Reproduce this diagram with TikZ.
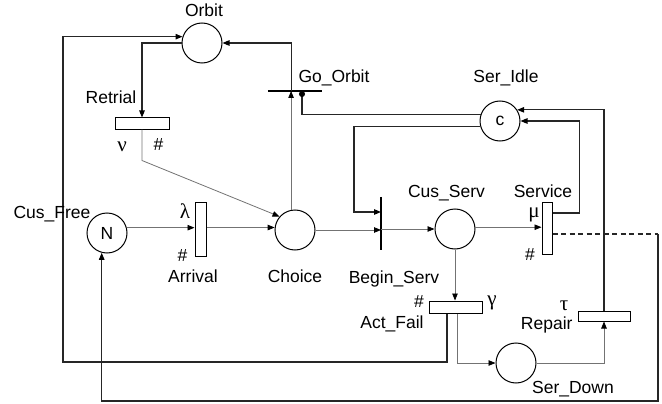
\documentclass[tikz,border=0pt]{standalone}
\usepackage{fontspec}
\setmainfont{Liberation Sans}
\newfontfamily\grkf{Liberation Serif}
\newcommand{\grk}{\grkf\fontsize{21}{24}\selectfont}
\usetikzlibrary{arrows.meta,calc}
\begin{document}
\begin{tikzpicture}[x=1pt,y=-1pt,
  txt/.style={font=\fontsize{17.5}{21}\selectfont},
  place/.style={circle,draw,line width=1pt,minimum size=40pt,inner sep=0pt,txt},
  trans/.style={rectangle,draw,line width=1pt,inner sep=0pt,fill=white},
  tbar/.style={inner sep=0pt,minimum size=0pt},
  barline/.style={line width=1.2pt},
  lbl/.style={anchor=base,inner sep=0pt,txt},
  arc/.style={-{Triangle[length=7pt,width=5.5pt,color=black]}},
  inh/.style={-{Circle[length=6pt,color=black]}},
  thk/.style={line width=1.1pt,black!85},
  thn/.style={line width=0.8pt,black!55},
  dsh/.style={dash pattern=on 5pt off 3.5pt}
]
\useasboundingbox (0,0) rectangle (662,404);

% places
\node[place] (orbit) at (202,43) {};
\node[place] (si) at (500,121) {c};
\node[place] (cf) at (107,233) {N};
\node[place] (ch) at (295,230) {};
\node[place] (cs) at (455,229) {};
\node[place] (sd) at (516,363) {};

% transitions
\node[trans,minimum width=54pt,minimum height=11pt] (ret) at (142,123.5) {};
\node[trans,minimum width=11pt,minimum height=54pt] (arr) at (200.5,229) {};
\node[trans,minimum width=10pt,minimum height=52pt] (sv) at (547,228) {};
\node[trans,minimum width=53pt,minimum height=12pt] (af) at (455.5,307) {};
\node[trans,minimum width=52pt,minimum height=10pt] (rp) at (604,316) {};
\node[tbar,minimum height=53pt] (bs) at (381,223.5) {};
\node[tbar,minimum width=54pt] (go) at (295,91) {};
\draw[barline] (bs.north) -- (bs.south);
\draw[barline] (go.west) -- (go.east);

% helper coordinates
\coordinate (c1) at (63,362);
\coordinate (bsin) at (354,212);
\coordinate (rc) at (658,234);
\coordinate (bot) at (102,401);

% connectors
\draw[thn,arc] (cf.15) -- (arr.west |- cf.15);
\draw[thn,arc] (arr.east |- ch.173) -- (ch.173);
\draw[thn,arc] (ch.east) -- (bs.center |- ch.east);
\draw[thn,arc] (bs.center |- cs.west) -- (cs.west);
\draw[thn,arc] (cs.5) -- (sv.west |- cs.5);
\draw[thn,arc] (cs.south) -- (cs.south |- af.north);
\draw[thn,arc] ($(af.south)+(1.5,0)$) |- (sd.west);
\draw[thk,arc] ($(af.south)+(-8.5,0)$) |- (c1) |- (orbit.162);
\draw[thk,arc] (orbit.west) -| (ret.north);
\draw[thn,arc] (ret.south) -- ++(0,31) -- (ch.139);
\draw[thn,arc] (ch.101) -- (ch.101 |- go.center);
\draw[thk,arc] (ch.101 |- go.center) |- (orbit.east);
\draw[thk,inh] (si.162) -| ($(go.center)+(7,0)$);
\draw[thk,arc] (si.195) -| (bsin) -- (bs.center |- bsin);
\draw[thk,arc] ($(sv.east)+(0,-15)$) -- ++(27,0) |- (si.east);
\draw[thk,arc] (rp.north) |- (si.33);
\draw[thn,arc] (sd.east) -| (rp.south);
\draw[thk,dsh] (sv.east |- rc) -- (rc);
\draw[thk,arc] (rc) |- (cf.255 |- bot) -- (cf.255);

% labels
\node[lbl] (lorbit) at (204,17) {Orbit};
\node[lbl] (lret) at (111,103) {Retrial};
\node[lbl] (lnu) at (122,151) {\grk ν};
\node[lbl] (lh1) at (158.5,150) {\#};
\node[lbl] (lgo) at (334,83) {Go\_Orbit};
\node[lbl] (lsi) at (506,83) {Ser\_Idle};
\node[lbl] (lcs) at (446.5,197) {Cus\_Serv};
\node[lbl] (lsv) at (543,197) {Service};
\node[lbl] (lcf) at (52,218) {Cus\_Free};
\node[lbl] (llam) at (185,218) {\grk λ};
\node[lbl] (lh2) at (182.5,261) {\#};
\node[lbl] (larr) at (193,282) {Arrival};
\node[lbl] (lch) at (295,282) {Choice};
\node[lbl] (lbs) at (394,283) {Begin\_Serv};
\node[lbl] (lh3) at (419,307) {\#};
\node[lbl] (lgam) at (492,305) {\grk γ};
\node[lbl] (laf) at (392,328) {Act\_Fail};
\node[lbl] (ltau) at (564,310) {\grk τ};
\node[lbl] (lrp) at (546.7,329) {Repair};
\node[lbl] (lsd) at (573,393) {Ser\_Down};
\node[lbl] (lmu) at (534,217) {\grk μ};
\node[lbl] (lh4) at (530,260) {\#};
\end{tikzpicture}
\end{document}
